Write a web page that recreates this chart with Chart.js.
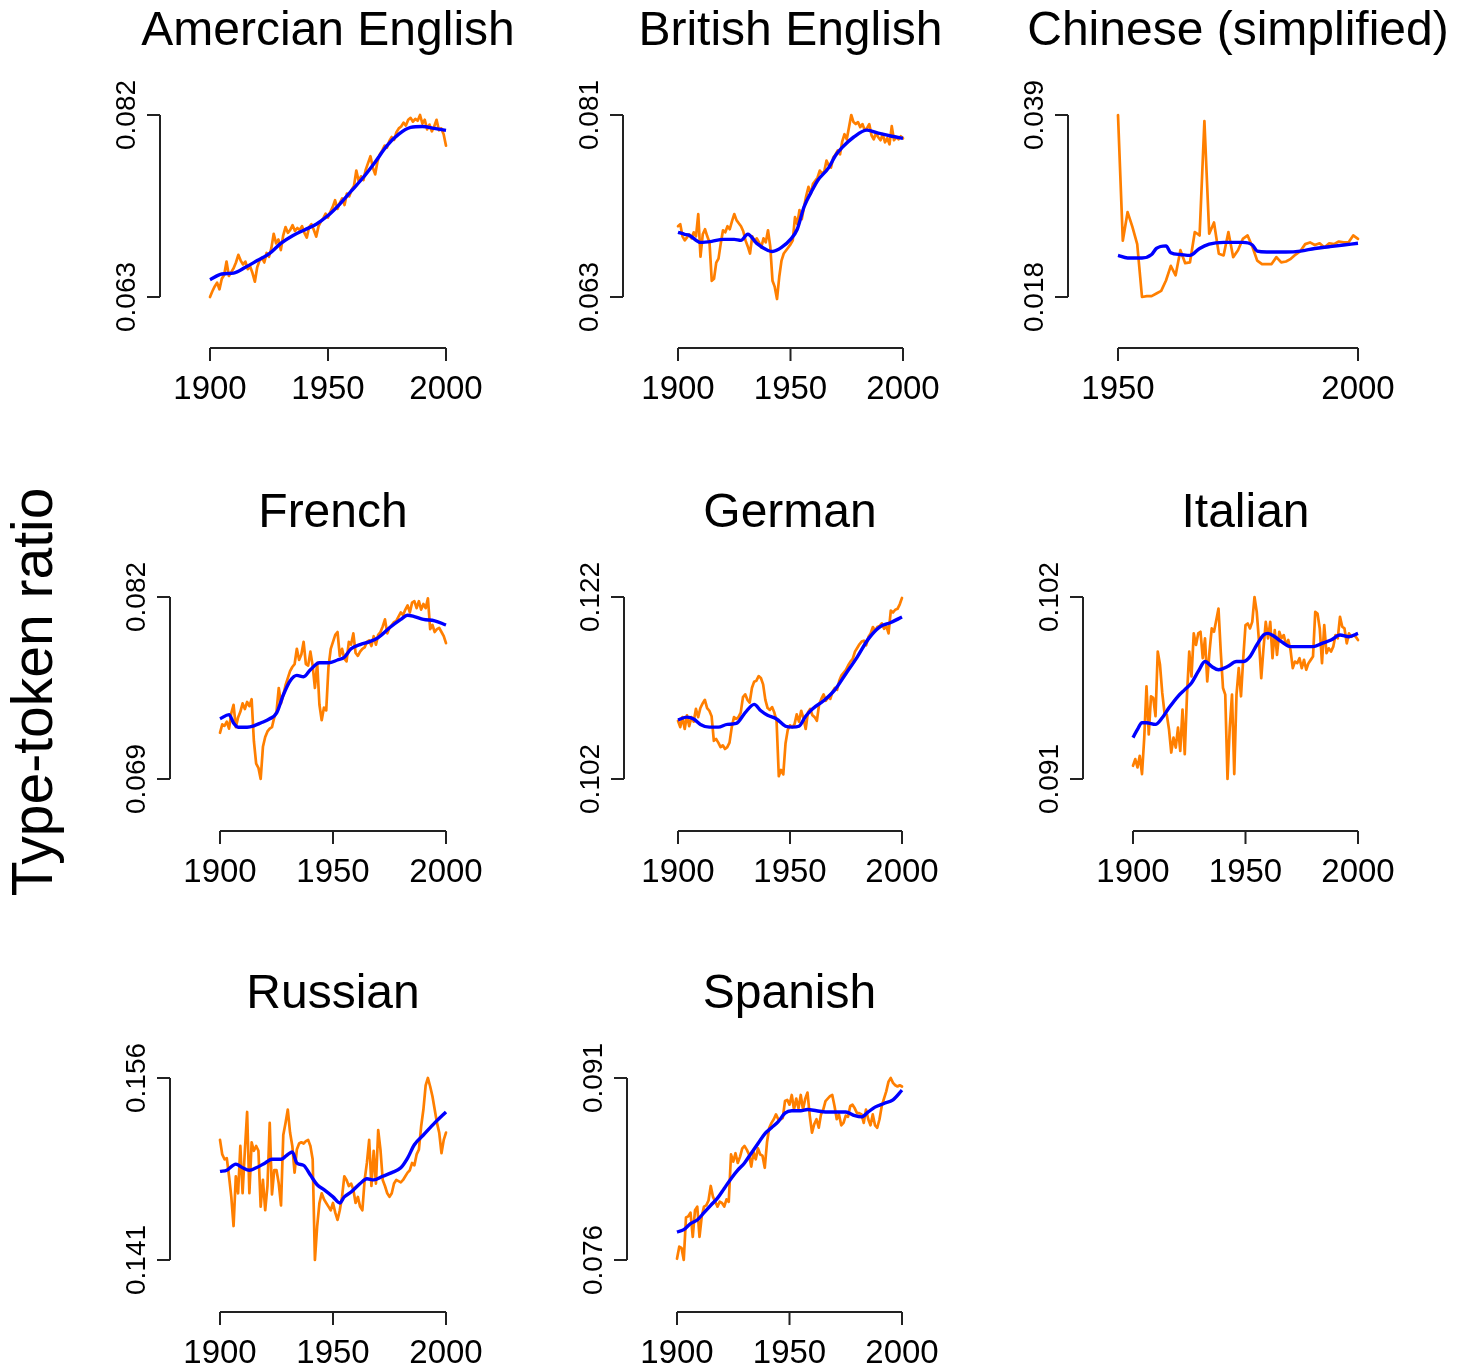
<!DOCTYPE html>
<html>
<head>
<meta charset="utf-8">
<title>Type-token ratio</title>
<script src="https://cdn.jsdelivr.net/npm/chart.js@4.4.0/dist/chart.umd.min.js"></script>
<style>
    html, body { margin: 0; padding: 0; background: #fff; }
    body { width: 1471px; height: 1367px; position: relative; overflow: hidden; font-family: "Liberation Sans", Arial, sans-serif; }
    canvas { position: absolute; }
    #ylabel {
        position: absolute; left: 32px; top: 692px; width: 600px;
        font-size: 57px; line-height: 57px; text-align: center; white-space: nowrap; color: #000;
        transform: translate(-50%, -50%) rotate(-90deg);
    }
</style>
</head>
<body>
<div id="ylabel">Type-token ratio</div>

<script>
// Years for the yearly (orange) series
const years1900 = [
    1900, 1901, 1902, 1903, 1904, 1905, 1906, 1907, 1908, 1909,
    1910, 1911, 1912, 1913, 1914, 1915, 1916, 1917, 1918, 1919,
    1920, 1921, 1922, 1923, 1924, 1925, 1926, 1927, 1928, 1929,
    1930, 1931, 1932, 1933, 1934, 1935, 1936, 1937, 1938, 1939,
    1940, 1941, 1942, 1943, 1944, 1945, 1946, 1947, 1948, 1949,
    1950, 1951, 1952, 1953, 1954, 1955, 1956, 1957, 1958, 1959,
    1960, 1961, 1962, 1963, 1964, 1965, 1966, 1967, 1968, 1969,
    1970, 1971, 1972, 1973, 1974, 1975, 1976, 1977, 1978, 1979,
    1980, 1981, 1982, 1983, 1984, 1985, 1986, 1987, 1988, 1989,
    1990, 1991, 1992, 1993, 1994, 1995, 1996, 1997, 1998, 1999,
    2000
];
const years1950 = [
    1950, 1951, 1952, 1953, 1954, 1955, 1956, 1957, 1958, 1959,
    1960, 1961, 1962, 1963, 1964, 1965, 1966, 1967, 1968, 1969,
    1970, 1971, 1972, 1973, 1974, 1975, 1976, 1977, 1978, 1979,
    1980, 1981, 1982, 1983, 1984, 1985, 1986, 1987, 1988, 1989,
    1990, 1991, 1992, 1993, 1994, 1995, 1996, 1997, 1998, 1999,
    2000
];

// Tick labels
const xTicks1900 = [1900, 1950, 2000];
const xTicks1950 = [1950, 2000];

// American English
const amRaw = [
    0.0630, 0.0636, 0.0641, 0.0645, 0.0638, 0.0649, 0.0653, 0.0667, 0.0652, 0.0656,
    0.0660, 0.0666, 0.0674, 0.0668, 0.0664, 0.0667, 0.0659, 0.0662, 0.0655, 0.0646,
    0.0661, 0.0668, 0.0671, 0.0666, 0.0676, 0.0672, 0.0681, 0.0696, 0.0686, 0.0690,
    0.0679, 0.0694, 0.0703, 0.0697, 0.0700, 0.0705, 0.0699, 0.0702, 0.0700, 0.0704,
    0.0697, 0.0692, 0.0703, 0.0706, 0.0700, 0.0693, 0.0704, 0.0709, 0.0712, 0.0717,
    0.0713, 0.0719, 0.0724, 0.0731, 0.0722, 0.0728, 0.0733, 0.0726, 0.0738, 0.0735,
    0.0742, 0.0746, 0.0762, 0.0751, 0.0756, 0.0752, 0.0763, 0.0770, 0.0777, 0.0765,
    0.0758, 0.0772, 0.0779, 0.0783, 0.0788, 0.0786, 0.0793, 0.0797, 0.0794, 0.0802,
    0.0806, 0.0808, 0.0812, 0.0809, 0.0815, 0.0817, 0.0813, 0.0816, 0.0814, 0.0820,
    0.0811, 0.0815, 0.0805, 0.0810, 0.0803, 0.0808, 0.0815, 0.0804, 0.0806, 0.0800,
    0.0788
];
const amSmoothYears = [1900, 1905, 1910, 1915, 1920, 1925, 1930, 1935, 1940, 1945, 1950, 1955, 1960, 1965, 1970, 1975, 1980, 1985, 1990, 1995, 2000];
const amSmooth = [0.0648, 0.0654, 0.0655, 0.0661, 0.0668, 0.0675, 0.0686, 0.0694, 0.0700, 0.0706, 0.0715, 0.0727, 0.0741, 0.0755, 0.0771, 0.0788, 0.0800, 0.0807, 0.0808, 0.0806, 0.0804];
const amYTicks = [0.063, 0.082];

// British English
const brRaw = [
    0.0700, 0.0702, 0.0690, 0.0686, 0.0689, 0.0692, 0.0688, 0.0694, 0.0690, 0.0712,
    0.0670, 0.0692, 0.0697, 0.0690, 0.0684, 0.0646, 0.0648, 0.0664, 0.0668, 0.0683,
    0.0696, 0.0694, 0.0700, 0.0697, 0.0705, 0.0712, 0.0706, 0.0703, 0.0700, 0.0695,
    0.0686, 0.0680, 0.0673, 0.0690, 0.0685, 0.0688, 0.0684, 0.0679, 0.0688, 0.0684,
    0.0696, 0.0680, 0.0646, 0.0640, 0.0628, 0.0650, 0.0666, 0.0673, 0.0676, 0.0679,
    0.0682, 0.0686, 0.0709, 0.0702, 0.0716, 0.0707, 0.0719, 0.0730, 0.0739, 0.0732,
    0.0742, 0.0745, 0.0748, 0.0755, 0.0752, 0.0754, 0.0765, 0.0760, 0.0758, 0.0768,
    0.0771, 0.0775, 0.0771, 0.0784, 0.0791, 0.0786, 0.0798, 0.0810, 0.0803, 0.0801,
    0.0803, 0.0798, 0.0801, 0.0795, 0.0797, 0.0801, 0.0790, 0.0786, 0.0792, 0.0788,
    0.0785, 0.0791, 0.0783, 0.0787, 0.0781, 0.0799, 0.0785, 0.0788, 0.0786, 0.0789,
    0.0787
];
const brSmoothYears = [1900, 1903, 1905, 1910, 1915, 1920, 1925, 1928, 1931, 1935, 1940, 1942, 1946, 1950, 1953, 1956, 1960, 1962, 1967, 1970, 1973, 1978, 1984, 1989, 1995, 2000];
const brSmooth = [0.0694, 0.0692, 0.0691, 0.0684, 0.0685, 0.0687, 0.0687, 0.0686, 0.0692, 0.0683, 0.0676, 0.0675, 0.0679, 0.0687, 0.0697, 0.0719, 0.0737, 0.0745, 0.0758, 0.0770, 0.0778, 0.0788, 0.0795, 0.0792, 0.0789, 0.0787];
const brYTicks = [0.063, 0.081];

// Chinese (simplified), from 1950
const zhRaw = [
    0.0390, 0.0245, 0.0278, 0.0261, 0.0241, 0.0180, 0.0181, 0.0181, 0.0184, 0.0187,
    0.0199, 0.0216, 0.0205, 0.0234, 0.0219, 0.0220, 0.0255, 0.0251, 0.0383, 0.0253,
    0.0266, 0.0230, 0.0228, 0.0255, 0.0226, 0.0234, 0.0247, 0.0251, 0.0238, 0.0222,
    0.0218, 0.0218, 0.0218, 0.0226, 0.0220, 0.0221, 0.0224, 0.0229, 0.0233, 0.0241,
    0.0243, 0.0240, 0.0242, 0.0237, 0.0242, 0.0241, 0.0244, 0.0243, 0.0243, 0.0251,
    0.0247
];
const zhSmoothYears = [1950, 1952, 1955, 1957, 1958, 1960, 1961, 1963, 1965, 1967, 1969, 1972, 1976, 1978, 1979, 1981, 1985, 1988, 1991, 1994, 1997, 2000];
const zhSmooth = [0.0228, 0.0225, 0.0225, 0.0229, 0.0236, 0.0239, 0.0231, 0.0229, 0.0228, 0.0236, 0.0241, 0.0243, 0.0243, 0.0240, 0.0233, 0.0232, 0.0232, 0.0233, 0.0236, 0.0238, 0.0240, 0.0242];
const zhYTicks = [0.018, 0.039];

// French
const frRaw = [
    0.0723, 0.0729, 0.0728, 0.0731, 0.0726, 0.0737, 0.0743, 0.0727, 0.0734, 0.0738,
    0.0744, 0.0740, 0.0745, 0.0742, 0.0747, 0.0717, 0.0701, 0.0698, 0.0690, 0.0713,
    0.0720, 0.0724, 0.0726, 0.0727, 0.0734, 0.0738, 0.0755, 0.0744, 0.0750, 0.0757,
    0.0762, 0.0767, 0.0770, 0.0772, 0.0783, 0.0775, 0.0779, 0.0788, 0.0772, 0.0771,
    0.0781, 0.0771, 0.0755, 0.0773, 0.0743, 0.0732, 0.0741, 0.0739, 0.0770, 0.0783,
    0.0788, 0.0793, 0.0795, 0.0778, 0.0783, 0.0776, 0.0774, 0.0788, 0.0786, 0.0794,
    0.0780, 0.0778, 0.0781, 0.0783, 0.0784, 0.0788, 0.0789, 0.0785, 0.0792, 0.0786,
    0.0793, 0.0795, 0.0799, 0.0804, 0.0794, 0.0798, 0.0800, 0.0802, 0.0803, 0.0806,
    0.0809, 0.0807, 0.0811, 0.0814, 0.0809, 0.0816, 0.0817, 0.0812, 0.0817, 0.0811,
    0.0815, 0.0812, 0.0819, 0.0797, 0.0800, 0.0795, 0.0797, 0.0798, 0.0795, 0.0792,
    0.0787
];
const frSmoothYears = [1900, 1904, 1906, 1908, 1912, 1915, 1918, 1922, 1925, 1928, 1931, 1934, 1937, 1940, 1944, 1948, 1952, 1955, 1958, 1962, 1966, 1970, 1975, 1980, 1983, 1986, 1990, 1995, 2000];
const frSmooth = [0.0733, 0.0736, 0.0730, 0.0727, 0.0727, 0.0728, 0.0730, 0.0733, 0.0737, 0.0750, 0.0760, 0.0764, 0.0763, 0.0768, 0.0773, 0.0773, 0.0775, 0.0777, 0.0783, 0.0786, 0.0788, 0.0791, 0.0798, 0.0804, 0.0807, 0.0806, 0.0804, 0.0803, 0.0800];
const frYTicks = [0.069, 0.082];

// German
const deRaw = [
    0.1084, 0.1077, 0.1088, 0.1075, 0.1090, 0.1078, 0.1088, 0.1083, 0.1097, 0.1088,
    0.1098, 0.1103, 0.1107, 0.1098, 0.1095, 0.1089, 0.1062, 0.1064, 0.1060, 0.1055,
    0.1057, 0.1053, 0.1055, 0.1060, 0.1077, 0.1088, 0.1086, 0.1088, 0.1093, 0.1110,
    0.1113, 0.1107, 0.1104, 0.1120, 0.1127, 0.1128, 0.1133, 0.1131, 0.1124, 0.1107,
    0.1098, 0.1096, 0.1099, 0.1093, 0.1084, 0.1023, 0.1030, 0.1025, 0.1059, 0.1074,
    0.1079, 0.1077, 0.1080, 0.1091, 0.1083, 0.1095, 0.1087, 0.1075, 0.1093, 0.1097,
    0.1090, 0.1088, 0.1084, 0.1102, 0.1108, 0.1113, 0.1106, 0.1110, 0.1108, 0.1116,
    0.1120, 0.1118, 0.1128, 0.1134, 0.1137, 0.1140, 0.1145, 0.1149, 0.1152, 0.1160,
    0.1164, 0.1168, 0.1171, 0.1172, 0.1167, 0.1176, 0.1180, 0.1187, 0.1183, 0.1187,
    0.1188, 0.1191, 0.1185, 0.1188, 0.1180, 0.1205, 0.1203, 0.1206, 0.1207, 0.1212,
    0.1219
];
const deSmoothYears = [1900, 1904, 1907, 1910, 1914, 1918, 1922, 1926, 1930, 1934, 1937, 1940, 1944, 1948, 1951, 1954, 1957, 1960, 1965, 1970, 1975, 1980, 1985, 1990, 1995, 2000];
const deSmooth = [0.1085, 0.1088, 0.1086, 0.1080, 0.1077, 0.1077, 0.1080, 0.1081, 0.1093, 0.1102, 0.1095, 0.1090, 0.1086, 0.1078, 0.1077, 0.1078, 0.1089, 0.1097, 0.1106, 0.1118, 0.1136, 0.1154, 0.1174, 0.1187, 0.1192, 0.1198];
const deYTicks = [0.102, 0.122];

// Italian
const itRaw = [
    0.0918, 0.0922, 0.0917, 0.0924, 0.0913, 0.0935, 0.0966, 0.0937, 0.0960, 0.0959,
    0.0948, 0.0987, 0.0979, 0.0962, 0.0950, 0.0949, 0.0940, 0.0926, 0.0935, 0.0929,
    0.0941, 0.0927, 0.0952, 0.0925, 0.0961, 0.0987, 0.0972, 0.0998, 0.0991, 0.0998,
    0.0999, 0.0983, 0.0995, 0.0969, 0.0987, 0.1001, 0.0999, 0.1006, 0.1013, 0.0987,
    0.0965, 0.0961, 0.0910, 0.0941, 0.0961, 0.0913, 0.0961, 0.0977, 0.0960, 0.0983,
    0.1003, 0.1004, 0.1001, 0.1005, 0.1020, 0.1011, 0.0993, 0.0971, 0.0989, 0.1005,
    0.0995, 0.1005, 0.0983, 0.1000, 0.0985, 0.0999, 0.0995, 0.0997, 0.0991, 0.0994,
    0.0988, 0.0977, 0.0981, 0.0980, 0.0983, 0.0977, 0.0982, 0.0976, 0.0980, 0.0982,
    0.0984, 0.1011, 0.1010, 0.1001, 0.0980, 0.1003, 0.0986, 0.0989, 0.0987, 0.0990,
    0.0997, 0.0995, 0.1008, 0.1002, 0.1001, 0.0992, 0.0998, 0.0996, 0.0997, 0.0996,
    0.0994
];
const itSmoothYears = [1900, 1902, 1904, 1906, 1910, 1913, 1916, 1920, 1923, 1926, 1929, 1932, 1935, 1938, 1942, 1946, 1949, 1952, 1955, 1958, 1960, 1963, 1966, 1970, 1975, 1980, 1984, 1988, 1992, 1996, 2000];
const itSmooth = [0.0935, 0.0940, 0.0944, 0.0944, 0.0943, 0.0947, 0.0953, 0.0960, 0.0964, 0.0968, 0.0975, 0.0981, 0.0978, 0.0976, 0.0978, 0.0981, 0.0981, 0.0984, 0.0991, 0.0997, 0.0998, 0.0996, 0.0993, 0.0990, 0.0990, 0.0990, 0.0992, 0.0994, 0.0997, 0.0996, 0.0998];
const itYTicks = [0.091, 0.102];

// Russian
const ruRaw = [
    0.1509, 0.1497, 0.1493, 0.1494, 0.1479, 0.1462, 0.1438, 0.1479, 0.1465, 0.1504,
    0.1465, 0.1500, 0.1532, 0.1465, 0.1507, 0.1500, 0.1504, 0.1500, 0.1454, 0.1476,
    0.1451, 0.1471, 0.1523, 0.1464, 0.1484, 0.1484, 0.1473, 0.1455, 0.1513, 0.1523,
    0.1534, 0.1515, 0.1504, 0.1482, 0.1501, 0.1506, 0.1507, 0.1506, 0.1508, 0.1509,
    0.1504, 0.1493, 0.1410, 0.1438, 0.1457, 0.1465, 0.1460, 0.1457, 0.1454, 0.1451,
    0.1457, 0.1449, 0.1443, 0.1451, 0.1462, 0.1479, 0.1476, 0.1471, 0.1473, 0.1468,
    0.1457, 0.1462, 0.1454, 0.1451, 0.1476, 0.1490, 0.1509, 0.1471, 0.1500, 0.1473,
    0.1517, 0.1501, 0.1476, 0.1471, 0.1465, 0.1462, 0.1465, 0.1473, 0.1476, 0.1475,
    0.1474, 0.1476, 0.1479, 0.1482, 0.1484, 0.1490, 0.1488, 0.1497, 0.1501, 0.1520,
    0.1534, 0.1554, 0.1560, 0.1553, 0.1545, 0.1534, 0.1523, 0.1515, 0.1498, 0.1509,
    0.1515
];
const ruSmoothYears = [1900, 1903, 1907, 1910, 1913, 1916, 1920, 1923, 1927, 1930, 1932, 1934, 1937, 1940, 1943, 1946, 1950, 1953, 1955, 1958, 1962, 1965, 1968, 1972, 1976, 1980, 1983, 1986, 1990, 1995, 2000];
const ruSmooth = [0.1483, 0.1484, 0.1489, 0.1486, 0.1484, 0.1486, 0.1490, 0.1493, 0.1493, 0.1497, 0.1499, 0.1490, 0.1488, 0.1480, 0.1472, 0.1468, 0.1462, 0.1457, 0.1462, 0.1466, 0.1473, 0.1477, 0.1476, 0.1479, 0.1482, 0.1486, 0.1494, 0.1505, 0.1513, 0.1523, 0.1532];
const ruYTicks = [0.141, 0.156];

// Spanish
const esRaw = [
    0.0761, 0.0771, 0.0770, 0.0760, 0.0795, 0.0796, 0.0799, 0.0779, 0.0801, 0.0804,
    0.0779, 0.0796, 0.0804, 0.0805, 0.0809, 0.0821, 0.0812, 0.0808, 0.0804, 0.0808,
    0.0807, 0.0804, 0.0810, 0.0808, 0.0847, 0.0841, 0.0848, 0.0840, 0.0845, 0.0852,
    0.0854, 0.0851, 0.0847, 0.0837, 0.0849, 0.0843, 0.0852, 0.0847, 0.0846, 0.0836,
    0.0857, 0.0869, 0.0873, 0.0876, 0.0880, 0.0876, 0.0876, 0.0877, 0.0891, 0.0892,
    0.0888, 0.0896, 0.0884, 0.0893, 0.0885, 0.0896, 0.0884, 0.0893, 0.0898, 0.0879,
    0.0865, 0.0872, 0.0876, 0.0869, 0.0880, 0.0884, 0.0891, 0.0893, 0.0895, 0.0896,
    0.0887, 0.0876, 0.0880, 0.0871, 0.0873, 0.0879, 0.0878, 0.0887, 0.0888, 0.0885,
    0.0881, 0.0881, 0.0880, 0.0873, 0.0884, 0.0876, 0.0871, 0.0880, 0.0871, 0.0869,
    0.0876, 0.0887, 0.0893, 0.0899, 0.0907, 0.0910, 0.0906, 0.0904, 0.0903, 0.0904,
    0.0903
];
const esSmoothYears = [1900, 1903, 1906, 1909, 1912, 1915, 1918, 1921, 1924, 1927, 1930, 1933, 1936, 1939, 1942, 1945, 1948, 1951, 1955, 1958, 1962, 1966, 1970, 1975, 1979, 1982, 1985, 1988, 1992, 1996, 2000];
const esSmooth = [0.0783, 0.0785, 0.0790, 0.0793, 0.0799, 0.0805, 0.0811, 0.0819, 0.0827, 0.0834, 0.0840, 0.0848, 0.0856, 0.0864, 0.0869, 0.0874, 0.0881, 0.0883, 0.0883, 0.0884, 0.0883, 0.0882, 0.0882, 0.0882, 0.0879, 0.0878, 0.0882, 0.0886, 0.0889, 0.0892, 0.0900];
const esYTicks = [0.076, 0.091];

// Layout: canvas cells and plot boxes in page pixels
const cols = [{ x: 80, w: 480 }, { x: 560, w: 440 }, { x: 1000, w: 471 }];
const rows = [{ y: 0, h: 460 }, { y: 460, h: 480 }, { y: 940, h: 427 }];

const panels = [
    { title: 'Amercian English', years: years1900, raw: amRaw, sYears: amSmoothYears, smooth: amSmooth, xTicks: xTicks1900, yTicks: amYTicks,
      col: 0, row: 0, box: { l: 210, t: 115, r: 446, b: 297 }, yGap: 50, xGap: 51 },
    { title: 'British English', years: years1900, raw: brRaw, sYears: brSmoothYears, smooth: brSmooth, xTicks: xTicks1900, yTicks: brYTicks,
      col: 1, row: 0, box: { l: 678, t: 115, r: 903, b: 297 }, yGap: 55, xGap: 51 },
    { title: 'Chinese (simplified)', years: years1950, raw: zhRaw, sYears: zhSmoothYears, smooth: zhSmooth, xTicks: xTicks1950, yTicks: zhYTicks,
      col: 2, row: 0, box: { l: 1118, t: 115, r: 1358, b: 297 }, yGap: 50, xGap: 51 },
    { title: 'French', years: years1900, raw: frRaw, sYears: frSmoothYears, smooth: frSmooth, xTicks: xTicks1900, yTicks: frYTicks,
      col: 0, row: 1, box: { l: 220, t: 597, r: 446, b: 779 }, yGap: 50, xGap: 52 },
    { title: 'German', years: years1900, raw: deRaw, sYears: deSmoothYears, smooth: deSmooth, xTicks: xTicks1900, yTicks: deYTicks,
      col: 1, row: 1, box: { l: 678, t: 597, r: 902, b: 779 }, yGap: 54, xGap: 52 },
    { title: 'Italian', years: years1900, raw: itRaw, sYears: itSmoothYears, smooth: itSmooth, xTicks: xTicks1900, yTicks: itYTicks,
      col: 2, row: 1, box: { l: 1133, t: 597, r: 1358, b: 779 }, yGap: 50, xGap: 52 },
    { title: 'Russian', years: years1900, raw: ruRaw, sYears: ruSmoothYears, smooth: ruSmooth, xTicks: xTicks1900, yTicks: ruYTicks,
      col: 0, row: 2, box: { l: 220, t: 1078, r: 446, b: 1260 }, yGap: 50, xGap: 52 },
    { title: 'Spanish', years: years1900, raw: esRaw, sYears: esSmoothYears, smooth: esSmooth, xTicks: xTicks1900, yTicks: esYTicks,
      col: 1, row: 2, box: { l: 677, t: 1078, r: 902, b: 1260 }, yGap: 50, xGap: 52 }
];

const FONT = '"Liberation Sans", Arial, Helvetica, sans-serif';

// R-style detached axes and title, placed with the chart's own scales
const rAxes = {
    id: 'rAxes',
    afterDraw(chart, args, opts) {
        const ctx = chart.ctx;
        const xs = chart.scales.x;
        const ys = chart.scales.y;
        const area = chart.chartArea;
        ctx.save();
        ctx.strokeStyle = '#222';
        ctx.lineWidth = 2;
        ctx.fillStyle = '#000';

        // x axis
        const ay = area.bottom + opts.xGap;
        const xFirst = xs.getPixelForValue(opts.xTicks[0]);
        const xLast = xs.getPixelForValue(opts.xTicks[opts.xTicks.length - 1]);
        ctx.beginPath();
        ctx.moveTo(xFirst, ay);
        ctx.lineTo(xLast, ay);
        opts.xTicks.forEach(t => {
            const px = xs.getPixelForValue(t);
            ctx.moveTo(px, ay);
            ctx.lineTo(px, ay + 13);
        });
        ctx.stroke();
        ctx.font = '33px ' + FONT;
        ctx.textAlign = 'center';
        ctx.textBaseline = 'alphabetic';
        opts.xTicks.forEach(t => ctx.fillText(String(t), xs.getPixelForValue(t), ay + 51));

        // y axis
        const ax = area.left - opts.yGap;
        const yFirst = ys.getPixelForValue(opts.yTicks[0]);
        const yLast = ys.getPixelForValue(opts.yTicks[opts.yTicks.length - 1]);
        ctx.beginPath();
        ctx.moveTo(ax, yFirst);
        ctx.lineTo(ax, yLast);
        opts.yTicks.forEach(t => {
            const py = ys.getPixelForValue(t);
            ctx.moveTo(ax, py);
            ctx.lineTo(ax - 13, py);
        });
        ctx.stroke();
        ctx.font = '28px ' + FONT;
        opts.yTicks.forEach(t => {
            ctx.save();
            ctx.translate(ax - 25, ys.getPixelForValue(t));
            ctx.rotate(-Math.PI / 2);
            ctx.textAlign = 'center';
            ctx.fillText(t.toFixed(3), 0, 0);
            ctx.restore();
        });

        // title
        ctx.font = '48px ' + FONT;
        ctx.textAlign = 'center';
        ctx.fillText(opts.title, (area.left + area.right) / 2, area.top - 70);
        ctx.restore();
    }
};

panels.forEach(p => {
    const cell = { x: cols[p.col].x, y: rows[p.row].y, w: cols[p.col].w, h: rows[p.row].h };
    const canvas = document.createElement('canvas');
    canvas.width = cell.w;
    canvas.height = cell.h;
    canvas.style.left = cell.x + 'px';
    canvas.style.top = cell.y + 'px';
    canvas.style.width = cell.w + 'px';
    canvas.style.height = cell.h + 'px';
    document.body.appendChild(canvas);

    new Chart(canvas.getContext('2d'), {
        type: 'line',
        data: {
            datasets: [
                {
                    label: 'Smoothed',
                    data: p.sYears.map((yr, i) => ({ x: yr, y: p.smooth[i] })),
                    borderColor: '#0000ff',
                    borderWidth: 3.4,
                    pointRadius: 0,
                    cubicInterpolationMode: 'monotone',
                    clip: false,
                    order: 0
                },
                {
                    label: 'Type-token ratio',
                    data: p.years.map((yr, i) => ({ x: yr, y: p.raw[i] })),
                    borderColor: '#ff7f00',
                    borderWidth: 2.7,
                    borderJoinStyle: 'round',
                    borderCapStyle: 'round',
                    pointRadius: 0,
                    tension: 0,
                    clip: false,
                    order: 1
                }
            ]
        },
        options: {
            responsive: false,
            animation: false,
            events: [],
            layout: {
                padding: {
                    left: p.box.l - cell.x,
                    right: cell.x + cell.w - p.box.r,
                    top: p.box.t - cell.y,
                    bottom: cell.y + cell.h - p.box.b
                }
            },
            scales: {
                x: { type: 'linear', display: false, min: p.xTicks[0], max: p.xTicks[p.xTicks.length - 1] },
                y: { type: 'linear', display: false, min: p.yTicks[0], max: p.yTicks[p.yTicks.length - 1] }
            },
            plugins: {
                legend: { display: false },
                tooltip: { enabled: false },
                rAxes: { title: p.title, xTicks: p.xTicks, yTicks: p.yTicks, xGap: p.xGap, yGap: p.yGap }
            }
        },
        plugins: [rAxes]
    });
});
</script>
</body>
</html>
